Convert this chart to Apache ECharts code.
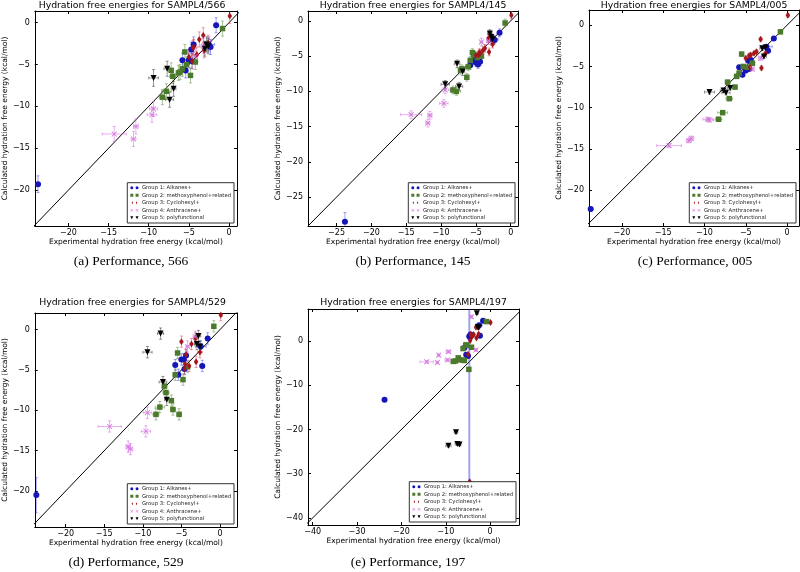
<!DOCTYPE html>
<html>
<head>
<meta charset="utf-8">
<script src="https://cdn.jsdelivr.net/npm/echarts@6/dist/echarts.min.js"></script>
<style>
  html, body { margin: 0; background: #fff; }
  #chart { width: 800px; height: 572px; }
</style>
</head>
<body>
<div id="chart"></div>
<script>
const panelIds = ['566', '145', '005', '529', '197'];
const captions = ['(a) Performance, 566', '(b) Performance, 145', '(c) Performance, 005', '(d) Performance, 529', '(e) Performance, 197'];
const groupNames = ['Group 1: Alkanes+', 'Group 2: methoxyphenol+related', 'Group 3: Cyclohexyl+', 'Group 4: Anthracene+', 'Group 5: polyfunctional'];

// axis limits per panel
const xMin = [-24.2, -29.1, -24.0, -24.0, -41.05];
const xMax = [1.0, 1.05, 1.45, 2.2, 6.5];
const yMin = [-24.3, -29.1, -24.35, -24.45, -41.6];
const yMax = [1.4, 1.4, 1.85, 2.05, 7.25];
const ticks20 = [-20, -15, -10, -5, 0];
const ticks25 = [-25, -20, -15, -10, -5, 0];
const ticks40 = [-40, -30, -20, -10, 0];
const xTicks = [ticks20, ticks25, ticks20, ticks20, ticks40];
const yTicks = [ticks20, ticks25, ticks20, ticks20, ticks40];

// experimental values and errors (same molecules in every panel)
const expG1 = [-23.8, -1.6, -2.5, -2.3, -5.8, -5.0, -4.7, -4.4, -5.4, -4.6];
const expErrG1 = [0.3, 0.2, 0.7, 0.3, 0.2, 0.3, 0.2, 0.2, 0.2, 0.3];
const expG2 = [-0.8, -5.5, -4.2, -5.8, -6.1, -7.2, -6.3, -7.0, -7.8, -8.3, -4.8, -5.3];
const expErrG2 = [0.2, 0.2, 0.3, 0.3, 0.3, 0.3, 0.2, 0.4, 0.6, 0.4, 0.2, 0.3];
const expG3 = [0.1, -3.2, -2.6, -3.1, -4.5, -4.0, -4.6, -5.0, -4.4, -3.7];
const expErrG3 = [0.2, 0.2, 0.3, 0.2, 0.2, 0.2, 0.2, 0.2, 0.2, 0.2];
const expG4 = [-14.3, -11.9, -11.6, -9.6, -9.4, -4.2, -3.2];
const expErrG4 = [1.5, 0.3, 0.3, 0.6, 0.5, 0.2, 0.3];
const expG5 = [-9.4, -7.7, -7.4, -6.9, -3.0, -2.8, -2.6];
const expErrG5 = [0.6, 0.4, 0.5, 0.3, 0.3, 0.3, 0.3];

// calculated values, one row per panel (566, 145, 005, 529, 197)
const calcG1 = [
  [-19.3, -0.3, -2.6, -2.9, -4.5, -4.5, -3.2, -2.6, -5.7, -4.6],
  [-28.5, -1.7, -2.6, -2.7, -6.3, -5.9, -6.2, -5.8, -5.6, -5.0],
  [-22.3, -1.6, -2.6, -3.1, -5.1, -5.5, -4.3, -4.2, -6.0, -5.3],
  [-20.5, -1.1, -2.1, -4.5, -4.4, -3.7, -3.7, -3.2, -5.6, -4.9],
  [-13.3, 4.6, 3.6, 1.2, -1.5, -3.4, 1.1, 1.5, -3.1, 0.9]
];
const calcG2 = [
  [-0.7, -3.5, -4.7, -5.5, -5.9, -5.7, -6.0, -6.4, -8.2, -8.9, -6.3, -5.0],
  [-0.3, -4.5, -5.0, -5.6, -6.5, -7.0, -8.0, -6.8, -10.0, -9.8, -5.2, -4.8],
  [-0.8, -3.5, -4.6, -5.8, -6.2, -6.9, -7.5, -8.9, -10.6, -11.4, -5.1, -5.0],
  [0.4, -2.9, -4.6, -5.6, -9.9, -7.0, -8.8, -7.8, -9.6, -10.5, -6.2, -10.5],
  [4.4, -0.9, -1.4, -4.4, -1.7, -3.8, -4.3, -4.2, -4.5, -4.6, -6.4, -0.9]
];
const calcG3 = [
  [0.8, -1.5, -2.4, -3.3, -3.0, -3.8, -4.6, -4.1, -2.9, -2.0],
  [0.8, -2.5, -3.3, -4.4, -4.5, -4.2, -4.8, -4.9, -4.6, -3.9],
  [1.2, -1.7, -3.4, -5.2, -5.1, -3.4, -3.7, -4.0, -3.6, -3.2],
  [1.8, -1.1, -2.8, -4.0, -4.3, -4.5, -4.8, -1.5, -3.1, -1.8],
  [4.2, 3.1, 1.6, 0.7, 0.1, 1.1, -31.8, -3.0, 1.5, 1.5]
];
const calcG4 = [
  [-13.3, -13.9, -12.4, -11.0, -10.3, -4.0, -2.8],
  [-13.3, -14.5, -13.4, -11.7, -9.8, -3.0, -2.8],
  [-14.6, -14.0, -13.7, -11.4, -11.5, -5.3, -4.0],
  [-12.0, -14.5, -14.8, -12.6, -10.3, -2.1, -0.9],
  [-4.7, -4.85, -3.2, -4.3, -2.4, 5.5, -2.0]
];
const calcG5 = [
  [-6.6, -5.5, -9.2, -7.9, -3.1, -2.6, -2.8],
  [-9.0, -6.1, -9.3, -7.2, -1.8, -2.3, -2.6],
  [-8.1, -7.9, -8.2, -7.6, -2.8, -3.8, -2.7],
  [-2.8, -0.5, -6.5, -8.7, -1.8, -0.8, -2.1],
  [-23.7, -20.6, -23.3, -23.4, 6.3, 3.1, 3.0]
];
// typical calculated error per panel
const calcErr = [0.9, 0.55, 0.25, 0.7, 0.3];
// larger calculated error bars: [panel, group, index, down, up]
const bigErr = [[0, 0, 0, 1.0, 1.0], [0, 4, 0, 1.0, 1.0], [1, 0, 0, 1.3, 1.3], [3, 0, 0, 2.2, 2.2], [4, 0, 6, 32.9, 10]];

const expAll = [expG1, expG2, expG3, expG4, expG5];
const expErrAll = [expErrG1, expErrG2, expErrG3, expErrG4, expErrG5];
const calcAll = [calcG1, calcG2, calcG3, calcG4, calcG5];

const groupColors = ['#1515b8', '#4c7a2c', '#a2161c', '#d070d8', '#000000'];
const errColors = ['rgba(50,50,225,0.45)', 'rgba(90,140,60,0.5)', 'rgba(210,50,60,0.45)', 'rgba(215,110,225,0.55)', 'rgba(0,0,0,0.4)'];
const symbols = [
  'circle',
  'rect',
  'path://M0,-1L0.6,0L0,1L-0.6,0Z',
  'path://M-1,-0.8L-0.8,-1L0,-0.2L0.8,-1L1,-0.8L0.2,0L1,0.8L0.8,1L0,0.2L-0.8,1L-1,0.8L-0.2,0Z',
  'path://M-1,-1L1,-1L0,1Z'
];
const symbolSizes = [6, 5.5, [4.2, 7], 5.5, 6];
const legendIcons = [
  'path://M0,2A2,2 0 1 1 4,2A2,2 0 1 1 0,2ZM7,2A2,2 0 1 1 11,2A2,2 0 1 1 7,2Z',
  'path://M0,0h4v4h-4zM7,0h4v4h-4z',
  'path://M2,0L3.1,2.5L2,5L0.9,2.5ZM9,0L10.1,2.5L9,5L7.9,2.5Z',
  'path://M0,0.4L0.4,0L2,1.6L3.6,0L4,0.4L2.4,2L4,3.6L3.6,4L2,2.4L0.4,4L0,3.6L1.6,2ZM7,0.4L7.4,0L9,1.6L10.6,0L11,0.4L9.4,2L11,3.6L10.6,4L9,2.4L7.4,4L7,3.6L8.6,2Z',
  'path://M0,0h4L2,4ZM7,0h4L9,4Z'
];

const gridLeft = [27, 308, 589, 28, 308];
const gridTop = [11, 11, 10, 313, 309];
const gridW = [210, 210, 210, 209, 211];
const gridH = [215, 215, 216, 214, 216];
const titleY = [5.5, 5.5, 5.5, 303, 303];
const captionX = [131, 413, 695, 126, 408];
const captionY = [261, 261, 261, 562, 562];

const font = 'DejaVu Sans';
const minus = v => String(v).replace('-', '\u2212');

function renderErr(params, api) {
  const x = api.value(0), y = api.value(1), ex = api.value(2), lo = api.value(3), hi = api.value(4);
  const c = api.coord([x, y]);
  const l = api.coord([x - ex, y]), r = api.coord([x + ex, y]);
  const b = api.coord([x, y - lo]), t = api.coord([x, y + hi]);
  const cap = 1.5;
  const style = { stroke: api.visual('color'), lineWidth: lo + hi > 20 ? 2 : 1 };
  const segs = [
    [l[0], c[1], r[0], c[1]], [l[0], c[1] - cap, l[0], c[1] + cap], [r[0], c[1] - cap, r[0], c[1] + cap],
    [c[0], b[1], c[0], t[1]], [c[0] - cap, b[1], c[0] + cap, b[1]], [c[0] - cap, t[1], c[0] + cap, t[1]]
  ];
  return {
    type: 'group',
    children: segs.map(p => ({ type: 'line', shape: { x1: p[0], y1: p[1], x2: p[2], y2: p[3] }, style }))
  };
}

const grids = [], xAxes = [], yAxes = [], series = [], legends = [], graphics = [];

panelIds.forEach((id, i) => {
  grids.push({ left: gridLeft[i], top: gridTop[i], width: gridW[i], height: gridH[i], show: false });

  const tickCommon = { inside: true, length: 3, lineStyle: { color: '#000', width: 1 } };
  const lineCommon = { onZero: false, lineStyle: { color: '#000', width: 1 } };
  xAxes.push({
    type: 'value', gridIndex: i, min: xMin[i], max: xMax[i], position: 'bottom',
    axisLine: lineCommon,
    axisTick: Object.assign({ customValues: xTicks[i] }, tickCommon),
    axisLabel: { customValues: xTicks[i], margin: 3, fontSize: 8, color: '#000', fontFamily: font, formatter: minus },
    splitLine: { show: false },
    name: 'Experimental hydration free energy (kcal/mol)', nameLocation: 'middle', nameGap: 11,
    nameTextStyle: { fontSize: 7.5, fontFamily: font, color: '#000' }
  });
  xAxes.push({
    type: 'value', gridIndex: i, min: xMin[i], max: xMax[i], position: 'top',
    axisLine: lineCommon,
    axisTick: Object.assign({ customValues: xTicks[i] }, tickCommon),
    axisLabel: { show: false }, splitLine: { show: false }
  });
  yAxes.push({
    type: 'value', gridIndex: i, min: yMin[i], max: yMax[i], position: 'left',
    axisLine: lineCommon,
    axisTick: Object.assign({ customValues: yTicks[i] }, tickCommon),
    axisLabel: { customValues: yTicks[i], margin: 5, fontSize: 8, color: '#000', fontFamily: font, formatter: minus },
    splitLine: { show: false },
    name: 'Calculated hydration free energy (kcal/mol)', nameLocation: 'middle', nameGap: 19, nameRotate: 90,
    nameTextStyle: { fontSize: 7.5, fontFamily: font, color: '#000' }
  });
  yAxes.push({
    type: 'value', gridIndex: i, min: yMin[i], max: yMax[i], position: 'right',
    axisLine: lineCommon,
    axisTick: Object.assign({ customValues: yTicks[i] }, tickCommon),
    axisLabel: { show: false }, splitLine: { show: false }
  });

  // y = x reference line
  const lo = Math.min(xMin[i], yMin[i]), hi = Math.max(xMax[i], yMax[i]);
  series.push({
    type: 'line', xAxisIndex: 2 * i, yAxisIndex: 2 * i, data: [[lo, lo], [hi, hi]],
    symbol: 'none', lineStyle: { color: '#000', width: 1 }, silent: true, z: 1
  });

  for (let g = 0; g < 5; g++) {
    const pts = [], errs = [];
    expAll[g].forEach((ex, k) => {
      const cv = calcAll[g][i][k];
      let down = calcErr[i], up = calcErr[i];
      bigErr.forEach(b => {
        if (b[0] === i && b[1] === g && b[2] === k) { down = b[3]; up = b[4]; }
      });
      pts.push([ex, cv]);
      errs.push([ex, cv, expErrAll[g][k], down, up]);
    });
    series.push({
      type: 'custom', name: 'err' + id + '_' + g, xAxisIndex: 2 * i, yAxisIndex: 2 * i,
      renderItem: renderErr, data: errs, encode: { x: 0, y: 1 }, clip: true,
      itemStyle: { color: errColors[g] }, silent: true, z: 2
    });
    series.push({
      type: 'scatter', name: groupNames[g], xAxisIndex: 2 * i, yAxisIndex: 2 * i,
      data: pts, symbol: symbols[g], symbolSize: symbolSizes[g],
      itemStyle: { color: groupColors[g], opacity: 1 }, z: 3
    });
  }

  legends.push({
    orient: 'vertical',
    right: 800 - (gridLeft[i] + gridW[i]) + 3,
    bottom: 572 - (gridTop[i] + gridH[i]) + 3,
    itemWidth: 9, itemHeight: 3, itemGap: 1.2,
    padding: [2, 3, 2, 3],
    backgroundColor: '#fff', borderColor: '#333', borderWidth: 1, borderRadius: 0,
    textStyle: { fontSize: 5.3, lineHeight: 6.3, fontFamily: font, color: '#222', padding: [0, 0, 0, -2] },
    data: groupNames.map((n, g) => ({ name: n, icon: legendIcons[g] }))
  });

  graphics.push({
    type: 'text', x: gridLeft[i] + gridW[i] / 2, y: titleY[i],
    style: {
      text: 'Hydration free energies for SAMPL4/' + id, fontSize: 9.3, fontFamily: font, fill: '#000',
      align: 'center', textAlign: 'center', verticalAlign: 'middle', textVerticalAlign: 'middle'
    }
  });
  graphics.push({
    type: 'text', x: captionX[i], y: captionY[i],
    style: {
      text: captions[i], fontSize: 13.5, fontFamily: 'Liberation Serif', fill: '#000',
      align: 'center', textAlign: 'center', verticalAlign: 'middle', textVerticalAlign: 'middle'
    }
  });
});

const chart = echarts.init(document.getElementById('chart'));
chart.setOption({
  animation: false,
  backgroundColor: '#fff',
  grid: grids,
  xAxis: xAxes,
  yAxis: yAxes,
  legend: legends,
  graphic: graphics,
  series: series
});
</script>
</body>
</html>
